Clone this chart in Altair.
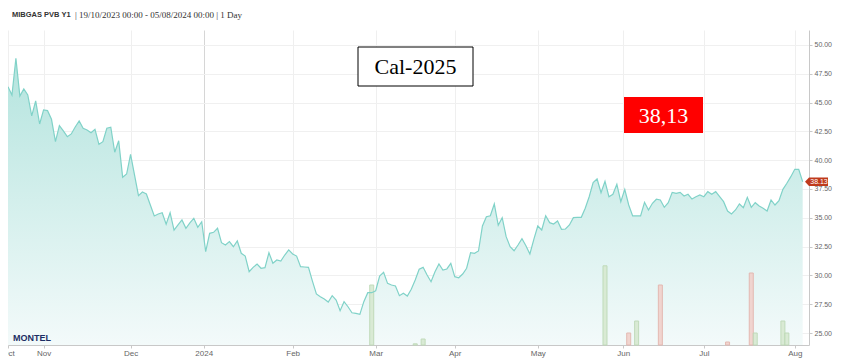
import altair as alt
import pandas as pd

# ---------------- data ----------------
series_name = "MIBGAS PVB Y1"
series_info = "| 19/10/2023 00:00 - 05/08/2024 00:00 | 1 Day"
box_label = "Cal-2025"

# daily settlement prices, one per trading session (session 0 = 19/10/2023)
prices = [
    46.38, 45.66, 48.85, 45.57, 46.18, 45.66, 43.84, 45.14, 43.14, 44.36,
    44.30, 43.55, 41.61, 43.00, 42.54, 42.04, 42.28, 42.88, 43.40, 42.77,
    42.62, 42.39, 42.68, 41.38, 41.61, 42.77, 42.86, 40.69, 41.69, 38.52,
    38.80, 40.51, 38.72, 36.92, 37.24, 37.07, 36.11, 35.16, 35.33, 35.44,
    34.44, 35.44, 33.94, 34.38, 34.81, 34.09, 34.55, 34.96, 34.18, 34.66,
    32.06, 33.65, 33.74, 34.09, 32.84, 32.64, 32.93, 32.49, 32.99, 31.92,
    31.68, 30.32, 30.70, 30.99, 30.62, 30.67, 31.97, 31.05, 31.34, 31.25,
    31.77, 32.21, 31.86, 31.68, 30.76, 30.73, 30.70, 29.51, 28.39, 28.15,
    27.95, 27.69, 28.24, 27.86, 26.94, 27.72, 27.28, 26.76, 26.71, 26.62,
    27.72, 28.50, 28.50, 28.67, 29.95, 30.27, 29.31, 29.17, 29.08, 28.24,
    28.45, 28.21, 28.79, 29.60, 30.53, 30.70, 30.03, 29.45, 30.32, 30.99,
    30.47, 30.56, 31.05, 29.89, 29.80, 30.12, 30.62, 31.97, 31.92, 32.12,
    34.29, 35.10, 35.18, 36.20, 34.35, 35.01, 33.36, 32.49, 32.14, 32.64,
    33.19, 32.58, 31.86, 33.13, 34.29, 33.94, 35.18, 34.58, 34.46, 34.72,
    34.00, 34.03, 34.38, 35.01, 35.03, 35.04, 35.83, 36.83, 38.05, 38.37,
    37.18, 38.16, 36.83, 37.04, 37.91, 36.40, 37.47, 36.11, 35.16, 35.16,
    35.16, 36.35, 35.68, 36.26, 36.61, 36.55, 35.91, 36.31, 37.21, 37.13,
    37.21, 36.89, 37.04, 36.63, 36.83, 36.98, 36.83, 37.27, 37.04, 37.27,
    36.83, 36.40, 35.59, 35.33, 35.68, 36.20, 35.88, 36.78, 35.91, 36.31,
    36.02, 35.83, 35.59, 36.55, 36.11, 36.48, 37.47, 38.00, 38.57, 39.21,
    39.21, 38.13,
]
sessions = list(range(len(prices)))

# traded volume bars
bar_sessions = [92, 103, 105, 151, 157, 159, 165, 182, 188, 189, 196, 197]
bar_volumes = [25, 0.5, 2.5, 33, 5, 10, 25, 1.25, 30, 5, 10, 5]
bar_sides = ["buy", "buy", "buy", "buy", "sell", "buy", "sell", "sell", "sell", "buy", "buy", "buy"]

# axis ticks
tick_sessions = [0, 9, 31, 49.5, 72, 93, 113, 134, 155.6, 176, 199]
tick_labels = ["Oct", "Nov", "Dec", "2024", "Feb", "Mar", "Apr", "May", "Jun", "Jul", "Aug"]
y_ticks = [25, 27.5, 30, 32.5, 35, 37.5, 40, 42.5, 45, 47.5, 50]

Y_MIN, Y_MAX = 23.96, 51.3
X_MIN, X_MAX = 0, 202.6
VOL_MAX = 131.25
W, H = 801, 315

# ---------------- tables ----------------
price_df = pd.DataFrame({"session": sessions, "price": prices})
bar_df = pd.DataFrame({"session": bar_sessions, "volume": bar_volumes, "side": bar_sides})
last_price = prices[-1]
tag_df = pd.DataFrame({"price": [last_price], "label": [f"{last_price:.2f}"]})

xscale = alt.Scale(domain=[X_MIN, X_MAX], nice=False, zero=False, padding=0)
yscale = alt.Scale(domain=[Y_MIN, Y_MAX], nice=False, zero=False, padding=0)

label_expr = (
    "[" + ",".join(f"'{l}'" for l in tick_labels) + "][indexof(["
    + ",".join(str(v) for v in tick_sessions) + "], datum.value)]"
)

x_axis = alt.Axis(
    values=tick_sessions, labelExpr=label_expr, orient="bottom", title=None,
    grid=True,
    gridColor={"condition": {"test": "datum.value == 49.5", "value": "#d6d6d6"}, "value": "#efefef"},
    domainColor="#c8c8c8", tickColor="#c8c8c8", tickSize=3,
    labelFontSize=8, labelColor="#666666", labelFont="Liberation Sans",
    labelPadding=1, labelFlush=False, labelOverlap=False,
)
y_axis = alt.Axis(
    orient="right", values=y_ticks, format=".2f", title=None, grid=True,
    gridColor="#f0f0f0", domainColor="#c8c8c8", tickColor="#c8c8c8", tickSize=3,
    labelFontSize=7, labelColor="#666666", labelFont="Liberation Sans", labelPadding=2,
)

gradient = alt.Gradient(
    gradient="linear",
    stops=[alt.GradientStop(color="#f3fafa", offset=0), alt.GradientStop(color="#b4e4de", offset=1)],
    x1=1, x2=1, y1=1, y2=0,
)

X = alt.X("session:Q", scale=xscale, axis=x_axis)

area = alt.Chart(price_df).mark_area(color=gradient, line=False).encode(
    x=X,
    y=alt.Y("price:Q", scale=yscale, axis=y_axis),
    y2=alt.Y2(datum=Y_MIN),
)

bars = alt.Chart(bar_df).mark_bar(width=4, strokeWidth=1, opacity=0.9).encode(
    x=X,
    y=alt.Y("volume:Q", scale=alt.Scale(domain=[0, VOL_MAX], nice=False, padding=0), axis=None),
    color=alt.Color("side:N", scale=alt.Scale(domain=["buy", "sell"], range=["#d7e9d1", "#f1d1cb"]), legend=None),
    stroke=alt.Stroke("side:N", scale=alt.Scale(domain=["buy", "sell"], range=["#bcd8b4", "#e3b3ab"]), legend=None),
)

line = alt.Chart(price_df).mark_line(color="#80d2c8", strokeWidth=1.2).encode(
    x=X,
    y=alt.Y("price:Q", scale=yscale, axis=None),
)

tag_shape = "M -1 0 L -0.65 -0.36 L 1 -0.36 L 1 0.36 L -0.65 0.36 Z"
tag = alt.Chart(tag_df).mark_point(shape=tag_shape, filled=True, size=529, color="#bf3a1c", opacity=1, strokeWidth=0).encode(
    x=alt.value(808.5),
    y=alt.Y("price:Q", scale=yscale, axis=None),
)
tag_text = alt.Chart(tag_df).mark_text(fontSize=7, color="white", font="Liberation Sans", align="center", baseline="middle").encode(
    x=alt.value(811),
    y=alt.Y("price:Q", scale=yscale, axis=None),
    text="label:N",
)

title1 = alt.Chart(pd.DataFrame({"t": [series_name]})).mark_text(
    align="left", baseline="middle", font="Liberation Sans", fontWeight="bold", fontSize=7.5, color="#333333"
).encode(x=alt.value(4), y=alt.value(-15), text="t:N")
title2 = alt.Chart(pd.DataFrame({"t": [series_info]})).mark_text(
    align="left", baseline="middle", font="Liberation Serif", fontSize=9, color="#333333"
).encode(x=alt.value(67), y=alt.value(-15), text="t:N")

cal_box = alt.Chart(pd.DataFrame({"t": [box_label]})).mark_rect(fill="white", stroke="black", strokeWidth=1).encode(
    x=alt.value(350), x2=alt.value(465), y=alt.value(17), y2=alt.value(56)
)
cal_text = alt.Chart(pd.DataFrame({"t": [box_label]})).mark_text(
    font="Liberation Serif", fontSize=22, color="black", align="center", baseline="middle"
).encode(x=alt.value(407.5), y=alt.value(37), text="t:N")

red_box = alt.Chart(tag_df).mark_rect(fill="#ff0000").encode(
    x=alt.value(616), x2=alt.value(695), y=alt.value(67), y2=alt.value(103)
)
red_text = alt.Chart(pd.DataFrame({"t": [f"{last_price:.2f}".replace(".", ",")]})).mark_text(
    font="Liberation Serif", fontSize=22, color="white", align="center", baseline="middle"
).encode(x=alt.value(655.5), y=alt.value(86), text="t:N")

logo = alt.Chart(pd.DataFrame({"t": ["MONTEL"]})).mark_text(
    font="Liberation Sans", fontWeight="bold", fontSize=9, color="#1c2d64", align="left", baseline="middle"
).encode(x=alt.value(5), y=alt.value(308), text="t:N")

chart = alt.layer(
    area, bars, line, tag, tag_text, title1, title2, cal_box, cal_text, red_box, red_text, logo
).resolve_scale(
    y="independent", color="independent", stroke="independent"
).properties(
    width=W, height=H,
    autosize=alt.AutoSizeParams(type="none"),
    padding={"left": 0, "top": 22, "right": 26, "bottom": 14},
    background="white",
).configure_view(strokeWidth=0)

chart.save("out.html", embed_options={"renderer": "svg", "actions": False})
